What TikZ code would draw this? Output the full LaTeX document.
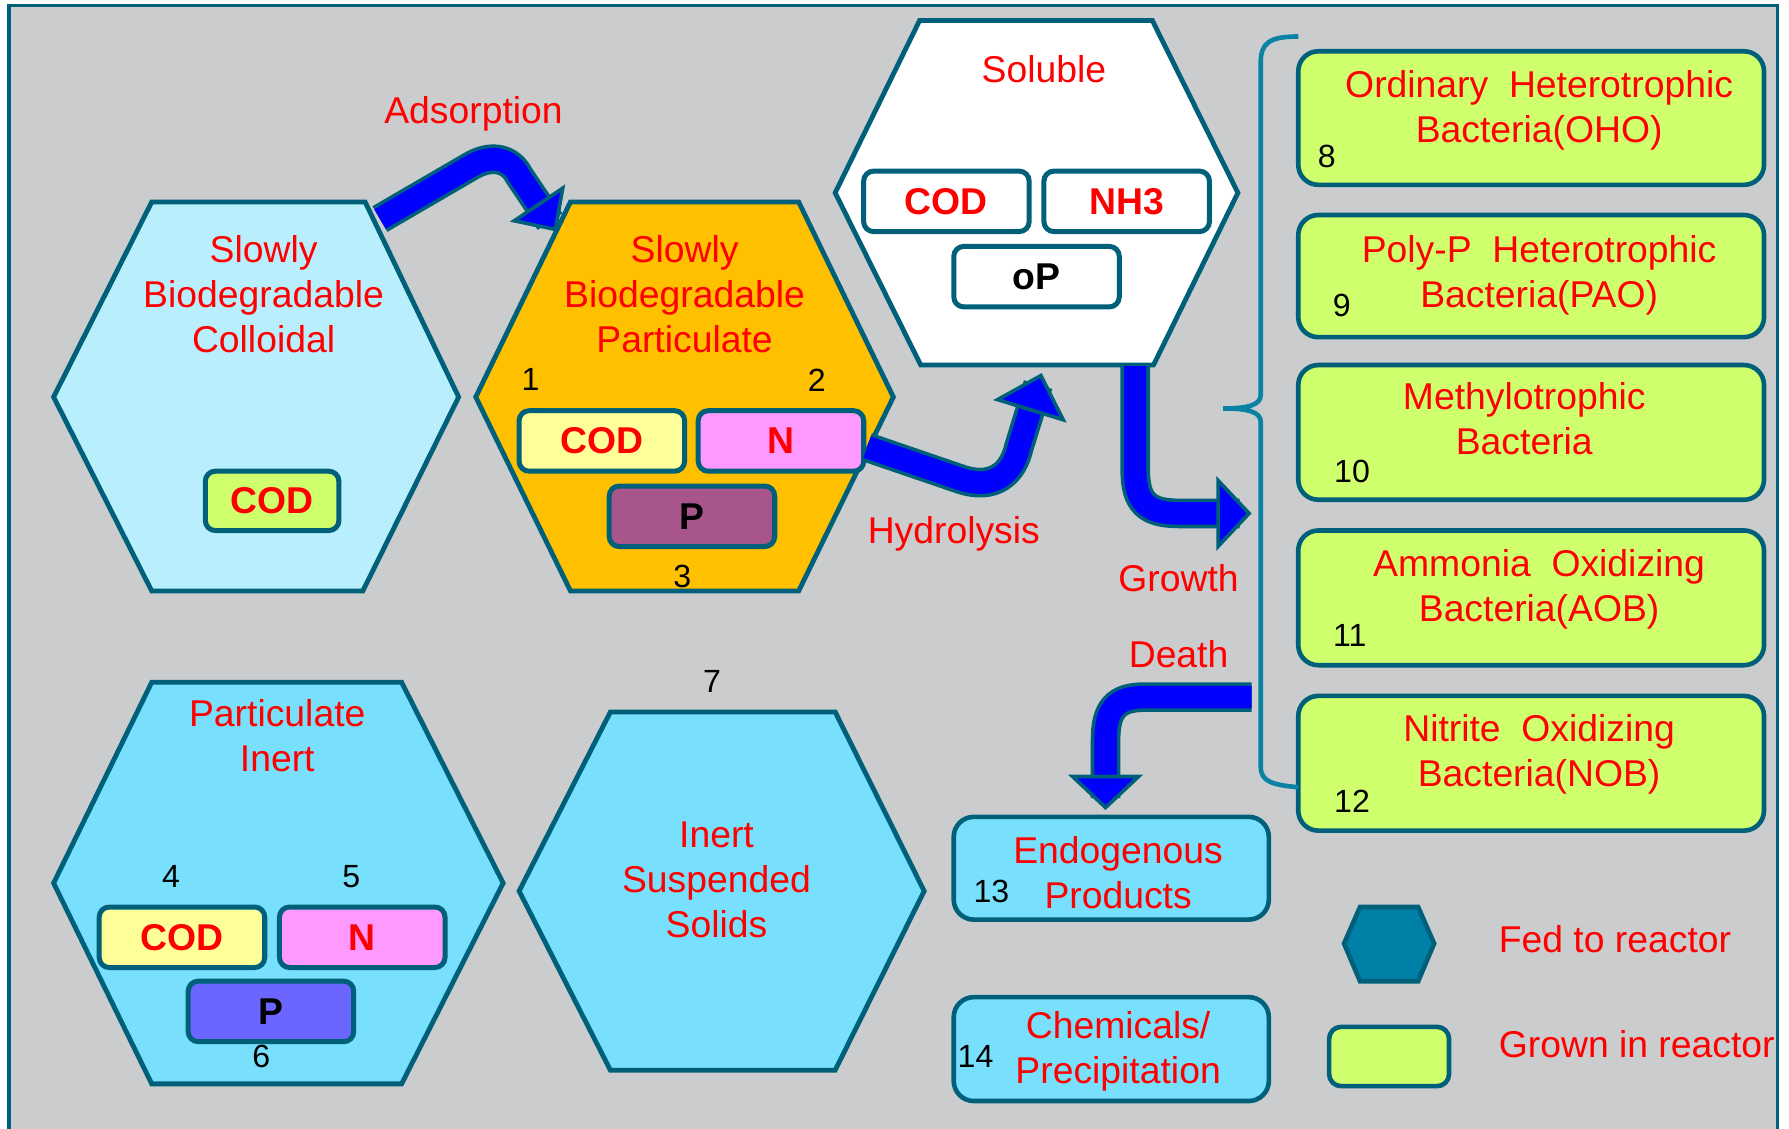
\documentclass[tikz,border=0pt]{standalone}
\usepackage{fontspec}
\setmainfont{Liberation Sans}
\usetikzlibrary{arrows.meta}
\definecolor{frameteal}{HTML}{00607A}
\definecolor{braceteal}{HTML}{0A82A4}
\definecolor{bggray}{HTML}{CBCCCE}
\definecolor{colloidcyan}{HTML}{B9EFFD}
\definecolor{partorange}{HTML}{FFC000}
\definecolor{inertcyan}{HTML}{78E0FC}
\definecolor{bactgreen}{HTML}{D0FF6E}
\definecolor{codyellow}{HTML}{FFFF99}
\definecolor{npink}{HTML}{FF99FF}
\definecolor{pmauve}{HTML}{A8558C}
\definecolor{pviolet}{HTML}{6B66FF}
\definecolor{fedteal}{HTML}{0080A6}
\definecolor{flowblue}{HTML}{0000FF}
\tikzset{
  hexline/.style={draw=frameteal, line width=1.2pt, line join=miter},
  redtxt/.style={text=red, align=center, inner sep=0pt, font=\fontsize{9.3}{11.2}\selectfont},
  num/.style={text=black, inner sep=0pt, font=\fontsize{8}{9.6}\selectfont},
  chip/.style={draw=frameteal, line width=1.25pt, rounded corners=2.5pt, minimum width=1.45cm,
    minimum height=0.53cm, inner sep=0pt, font=\bfseries\fontsize{9.3}{11}\selectfont},
  bact/.style={draw=frameteal, line width=1.15pt, rounded corners=5pt, fill=bactgreen,
    minimum width=4.08cm, inner sep=0pt},
  flow/.style 2 args={draw=flowblue, line width=5.6pt,
    preaction={draw=frameteal, line width=7.4pt, -, shorten >=3pt},
    -{Triangle[length=#1, width=#2, fill=flowblue, color=frameteal, line width=0.9pt]}}
}
\begin{document}
\begin{tikzpicture}[x=0.01cm, y=-0.01cm]
\useasboundingbox (0,0) rectangle (1568,989);
\clip (0,0) rectangle (1568,989);
\fill[white] (0,0) rectangle (1568,989);
\draw[frameteal, line width=0.85pt, fill=bggray] (8,5) rectangle (1558,1020);

% hexagons
\draw[hexline, fill=colloidcyan] (47,348) -- (133,177) -- (320,177) -- (402,348) -- (318,518) -- (133,518) -- cycle;
\draw[hexline, fill=partorange] (417,348) -- (500,177) -- (700,177) -- (783,348) -- (700,518) -- (500,518) -- cycle;
\draw[hexline, fill=white] (732,169) -- (806,18) -- (1010,18) -- (1085,169) -- (1011,320) -- (807,320) -- cycle;
\draw[hexline, fill=inertcyan] (47,774) -- (133,598) -- (352,598) -- (441,774) -- (352,950) -- (133,950) -- cycle;
\draw[hexline, fill=inertcyan] (455,781) -- (535,624) -- (732,624) -- (810,781) -- (732,938) -- (535,938) -- cycle;

\node[redtxt] (colloidtxt) at (231,258) {Slowly\\Biodegradable\\Colloidal};
\node[redtxt] (partictxt) at (600,258) {Slowly\\Biodegradable\\Particulate};
\node[redtxt] (solubletxt) at (915,61) {Soluble};
\node[redtxt] (inerttxt) at (243,645) {Particulate\\Inert};
\node[redtxt] (isstxt) at (628,771) {Inert\\Suspended\\Solids};

% components
\node[chip, fill=bactgreen, text=red, minimum width=1.17cm, minimum height=0.52cm] (colloidcod) at (238.5,439) {COD};
\node[chip, fill=codyellow, text=red] (particcod) at (527.5,386.5) {COD};
\node[chip, fill=npink, text=red] (particn) at (684.5,386.5) {N};
\node[chip, fill=pmauve, text=black] (particp) at (606.5,452.5) {P};
\node[chip, fill=white, text=red] (solcod) at (829.5,176.5) {COD};
\node[chip, fill=white, text=red] (solnh) at (987.5,176.5) {NH3};
\node[chip, fill=white, text=black] (solop) at (908.5,242.5) {oP};
\node[chip, fill=codyellow, text=red] (inertcod) at (159.5,821.5) {COD};
\node[chip, fill=npink, text=red] (inertn) at (317.5,821.5) {N};
\node[chip, fill=pviolet, text=black] (inertp) at (237.5,886.5) {P};

\node[num] (n1) at (465,333) {1};
\node[num] (n2) at (716,333) {2};
\node[num] (n3) at (598,505) {3};
\node[num] (n4) at (150,768) {4};
\node[num] (n5) at (308,768) {5};
\node[num] (n6) at (229,926) {6};
\node[num] (n7) at (624,597) {7};

% biomass
\node[bact, minimum height=1.17cm] (oho) at (1342,103.5) {};
\node[bact, minimum height=1.07cm] (pao) at (1342,242) {};
\node[bact, minimum height=1.18cm] (methyl) at (1342,379) {};
\node[bact, minimum height=1.18cm] (aob) at (1342,524) {};
\node[bact, minimum height=1.18cm] (nob) at (1342,669) {};
\node[redtxt] (ohotxt) at (1349,96.5) {Ordinary~~Heterotrophic\\Bacteria(OHO)};
\node[redtxt] (paotxt) at (1349,241) {Poly-P~~Heterotrophic\\Bacteria(PAO)};
\node[redtxt] (methyltxt) at (1336,367) {Methylotrophic\\Bacteria};
\node[redtxt] (aobtxt) at (1349,516.5) {Ammonia~~Oxidizing\\Bacteria(AOB)};
\node[redtxt] (nobtxt) at (1349,661) {Nitrite~~Oxidizing\\Bacteria(NOB)};
\node[num] (n8) at (1163,137) {8};
\node[num] (n9) at (1176,268) {9};
\node[num] (n10) at (1185,413) {10};
\node[num] (n11) at (1183,557) {11};
\node[num] (n12) at (1185,702) {12};

\draw[braceteal, line width=1.15pt] (1138,32) .. controls (1112,32) and (1105,38) .. (1105,55)
  -- (1105,346) .. controls (1105,355) and (1094,358) .. (1072,358)
  .. controls (1094,358) and (1105,361) .. (1105,370)
  -- (1105,672) .. controls (1105,685) and (1115,688) .. (1138,690);

% products
\node[bact, fill=inertcyan, minimum width=2.76cm, minimum height=0.9cm] (endo) at (974,761) {};
\node[bact, fill=inertcyan, minimum width=2.76cm, minimum height=0.91cm] (chem) at (974,919.5) {};
\node[redtxt] (endotxt) at (980,764.5) {Endogenous\\Products};
\node[redtxt] (chemtxt) at (980,921.5) {Chemicals/\\Precipitation};
\node[num] (n13) at (869,781) {13};
\node[num] (n14) at (855,926) {14};

% legend
\draw[hexline, line width=1.15pt, fill=fedteal] (1178,827) -- (1192,795) -- (1243,795) -- (1257,827) -- (1243,860) -- (1192,860) -- cycle;
\node[bact, minimum width=1.05cm, minimum height=0.52cm, rounded corners=3pt] (grown) at (1217.5,926) {};
\node[redtxt, anchor=west] (fedtxt) at (1313,823) {Fed to reactor};
\node[redtxt, anchor=west] (growntxt) at (1313,915) {Grown in reactor};

% processes
\coordinate (adsStart) at (333,192);
\coordinate (adsEnd) at (488,203);
\coordinate (hydStart) at (760,392);
\coordinate (hydEnd) at (913,327);
\coordinate (groStart) at (995,321);
\coordinate (groEnd) at (1097,450);
\coordinate (dthStart) at (1097,611);
\coordinate (dthEnd) at (969,710);
\draw[flow={8.6pt}{16.5pt}] (adsStart) -- (412,146) .. controls (432,134) and (448,140) .. (455,154) -- (adsEnd);
\draw[flow={10pt}{19pt}] (hydStart) -- (842,420) .. controls (872,430) and (888,414) .. (893,392) -- (hydEnd);
\draw[flow={8.8pt}{18.5pt}] (groStart) -- (995,412) .. controls (995,440) and (1005,450) .. (1033,450) -- (groEnd);
\draw[flow={8.8pt}{18.5pt}] (dthStart) -- (1003,611) .. controls (978,611) and (969,622) .. (969,648) -- (dthEnd);

\node[redtxt] (adslbl) at (415,100) {Adsorption};
\node[redtxt] (hydlbl) at (836,468) {Hydrolysis};
\node[redtxt] (grolbl) at (1033,507) {Growth};
\node[redtxt] (dthlbl) at (1033,573) {Death};
\end{tikzpicture}
\end{document}
